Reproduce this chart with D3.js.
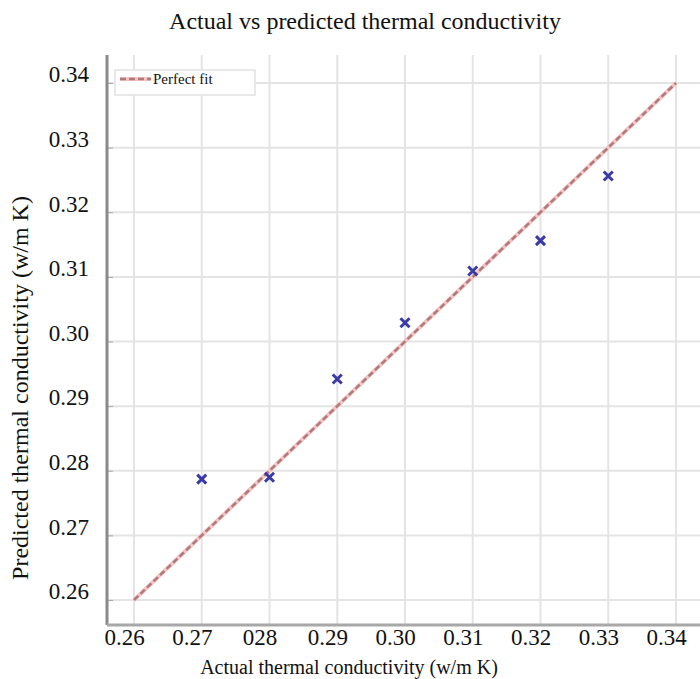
<!DOCTYPE html>
<html>
<head>
<meta charset="utf-8">
<script src="https://cdn.jsdelivr.net/npm/d3@7"></script>
<style>
  body { margin: 0; background: #fff; }
  svg { display: block; }
  svg text { font-family: 'Liberation Serif', 'Times New Roman', serif; }
</style>
</head>
<body>
<svg id="chart" width="700" height="679"></svg>
<script>
// data
const actual = [0.27, 0.28, 0.29, 0.30, 0.31, 0.32, 0.33];
const predicted = [0.2787, 0.2790, 0.2942, 0.3029, 0.3109, 0.3156, 0.3256];
const tickValues = [0.26, 0.27, 0.28, 0.29, 0.30, 0.31, 0.32, 0.33, 0.34];
const xTickLabels = ['0.26', '0.27', '028', '0.29', '0.30', '0.31', '0.32', '0.33', '0.34'];
const yTickLabels = ['0.26', '0.27', '0.28', '0.29', '0.30', '0.31', '0.32', '0.33', '0.34'];
const fitLine = [0.26, 0.34];

const svg = d3.select('#chart');
const plot = { left: 107, right: 700, top: 55, bottom: 625 };

const x = d3.scaleLinear().domain([0.26, 0.34]).range([134, 676]);
const y = d3.scaleLinear().domain([0.26, 0.34]).range([600, 83]);

// grid
svg.append('g')
  .selectAll('line')
  .data(tickValues)
  .join('line')
  .attr('x1', d => x(d)).attr('x2', d => x(d))
  .attr('y1', plot.top).attr('y2', plot.bottom)
  .attr('stroke', '#e4e4e4').attr('stroke-width', 2);

svg.append('g')
  .selectAll('line')
  .data(tickValues)
  .join('line')
  .attr('x1', plot.left).attr('x2', plot.right)
  .attr('y1', d => y(d)).attr('y2', d => y(d))
  .attr('stroke', '#e4e4e4').attr('stroke-width', 2);

// axes
const xAxis = svg.append('g')
  .attr('transform', `translate(0,${plot.bottom})`)
  .call(d3.axisBottom(x).tickValues(tickValues).tickSize(0).tickPadding(4)
    .tickFormat((d, i) => xTickLabels[i]));
xAxis.attr('font-family', null);
xAxis.select('.domain').remove();
xAxis.selectAll('text')
  .attr('font-size', 23).attr('fill', '#111')
  .attr('dx', -10);

const yAxis = svg.append('g')
  .attr('transform', `translate(${plot.left},0)`)
  .call(d3.axisLeft(y).tickValues(tickValues).tickSize(-6).tickPadding(18)
    .tickFormat((d, i) => yTickLabels[i]));
yAxis.attr('font-family', null);
yAxis.select('.domain').remove();
yAxis.selectAll('.tick line').attr('stroke', '#aaa');
yAxis.selectAll('text')
  .attr('font-size', 23).attr('fill', '#111')
  .attr('dy', '-0.05em');

svg.append('line')
  .attr('x1', plot.left).attr('x2', plot.left)
  .attr('y1', plot.top).attr('y2', plot.bottom)
  .attr('stroke', '#8a8a8a').attr('stroke-width', 3);
svg.append('line')
  .attr('x1', plot.left).attr('x2', plot.right)
  .attr('y1', plot.bottom).attr('y2', plot.bottom)
  .attr('stroke', '#a8a8a8').attr('stroke-width', 3);

// perfect fit line
const line = d3.line().x(d => x(d)).y(d => y(d));
svg.append('path').datum(fitLine)
  .attr('d', line)
  .attr('stroke', '#f6c4c4').attr('stroke-width', 4).attr('fill', 'none');
svg.append('path').datum(fitLine)
  .attr('d', line)
  .attr('stroke', '#b07a7a').attr('stroke-width', 2.5)
  .attr('stroke-dasharray', '6,3').attr('fill', 'none');

// points
svg.append('g')
  .selectAll('path')
  .data(actual.map((a, i) => [a, predicted[i]]))
  .join('path')
  .attr('transform', d => `translate(${x(d[0])},${y(d[1])})`)
  .attr('d', 'M-4.5,-4.5L4.5,4.5M-4.5,4.5L4.5,-4.5')
  .attr('stroke', '#3b3ba6').attr('stroke-width', 3).attr('fill', 'none');

// legend
const lg = svg.append('g').attr('transform', 'translate(115,70)');
lg.append('rect').attr('width', 140).attr('height', 25)
  .attr('fill', '#fff').attr('stroke', '#e2e2e2').attr('stroke-width', 1.5);
lg.append('line').attr('x1', 5).attr('x2', 36).attr('y1', 9).attr('y2', 9)
  .attr('stroke', '#f6c4c4').attr('stroke-width', 4);
lg.append('line').attr('x1', 5).attr('x2', 36).attr('y1', 9).attr('y2', 9)
  .attr('stroke', '#b07a7a').attr('stroke-width', 2.5).attr('stroke-dasharray', '6,3');
lg.append('text').attr('x', 38).attr('y', 14)
  .attr('font-size', 15).attr('fill', '#111').text('Perfect fit');

// titles
svg.append('text')
  .attr('x', 365).attr('y', 29)
  .attr('text-anchor', 'middle')
  .attr('font-size', 24).attr('fill', '#111')
  .text('Actual vs predicted thermal conductivity');

svg.append('text')
  .attr('x', 349).attr('y', 674)
  .attr('text-anchor', 'middle')
  .attr('font-size', 20).attr('fill', '#111')
  .text('Actual thermal conductivity (w/m K)');

svg.append('text')
  .attr('transform', 'translate(28,388) rotate(-90)')
  .attr('text-anchor', 'middle')
  .attr('font-size', 24).attr('fill', '#111')
  .text('Predicted thermal conductivity (w/m K)');
</script>
</body>
</html>
